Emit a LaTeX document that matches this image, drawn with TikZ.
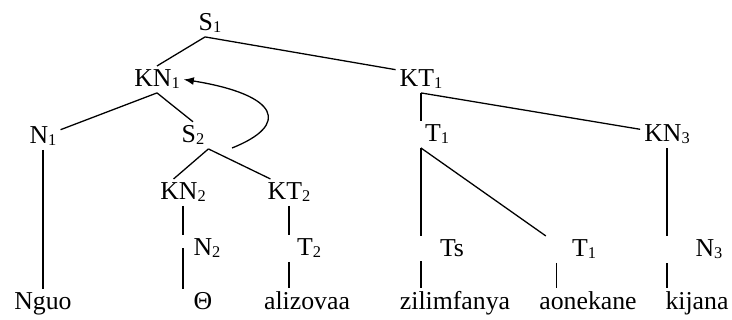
\documentclass[tikz,border=0pt]{standalone}
\usepackage{fontspec}
\setmainfont{Liberation Serif}
\usetikzlibrary{arrows.meta}
\newcommand\subix[1]{\raisebox{-1.5pt}{\fontsize{14}{14}\selectfont#1}}

\begin{document}
\begin{tikzpicture}[x=0.03cm,y=-0.03cm,>={Latex[length=3mm,width=2.4mm]},line width=1.1pt,
  lbl/.style={inner sep=3pt,anchor=base,font=\fontsize{22}{26}\selectfont},
  word/.style={lbl}]
\useasboundingbox (0,0) rectangle (732,320);
% category labels
\node[lbl] (s1) at (210,31) {S\subix{1}};
\node[lbl] (kn1) at (157,87) {KN\subix{1}};
\node[lbl] (kt1) at (421,87) {KT\subix{1}};
\node[lbl] (n1) at (43,144) {N\subix{1}};
\node[lbl] (s2) at (193,143) {S\subix{2}};
\node[lbl] (t1) at (437,142) {T\subix{1}};
\node[lbl] (kn3) at (667,142) {KN\subix{3}};
\node[lbl] (kn2) at (183,200) {KN\subix{2}};
\node[lbl] (kt2) at (289,200) {KT\subix{2}};
\node[lbl] (n2) at (207,256) {N\subix{2}};
\node[lbl] (t2) at (309,256) {T\subix{2}};
\node[lbl] (ts) at (452,257) {Ts};
\node[lbl] (t1b) at (584,257) {T\subix{1}};
\node[lbl] (n3) at (709,257) {N\subix{3}};
% words
\node[word] (nguo) at (43,310) {Nguo};
\node[word] (theta) at (203,310) {Θ};
\node[word] (alizovaa) at (307,310) {alizovaa};
\node[word] (zilimfanya) at (455,310) {zilimfanya};
\node[word] (aonekane) at (588,310) {aonekane};
\node[word] (kijana) at (697,310) {kijana};
% branches
\draw (s1.250) -- (kn1.north);
\draw (s1.250) -- (kt1.159);
\draw (kn1.south) -- (n1.21);
\draw (kn1.south) -- (s2.north);
\draw (s2.south east) -- (kn2.125);
\draw (s2.south east) -- (kt2.144);
\draw (n1.south) -- (nguo.north);
\draw (kn2.south) -- (kn2.south |- n2.north);
\draw (kn2.south |- n2.west) -- (kn2.south |- theta.north);
\draw (kt2.south) -- (kt2.south |- t2.north);
\draw (kt2.south |- t2.south) -- (kt2.south |- alizovaa.north);
\draw (kt1.south) -- (kt1.south |- t1.north);
\draw (kt1.south) -- (kn3.169);
\draw (t1.south west) -- (t1.south west |- ts.north);
\draw (t1.south west) -- ([xshift=-0.66cm]t1b.north west);
\draw (t1.south west |- ts.south) -- (t1.south west |- zilimfanya.north);
\draw ([xshift=-0.35cm]t1b.south west) -- ([xshift=-0.35cm]t1b.south west |- aonekane.north);
\draw (kn3.south) -- (kn3.south |- n3.north);
\draw (kn3.south |- n3.south) -- (kn3.south |- kijana.north);
% movement
\coordinate (mv) at (232,148);
\draw[->] (mv) .. controls (290,125) and (280,95) .. (kn1.east);
\end{tikzpicture}
\end{document}
